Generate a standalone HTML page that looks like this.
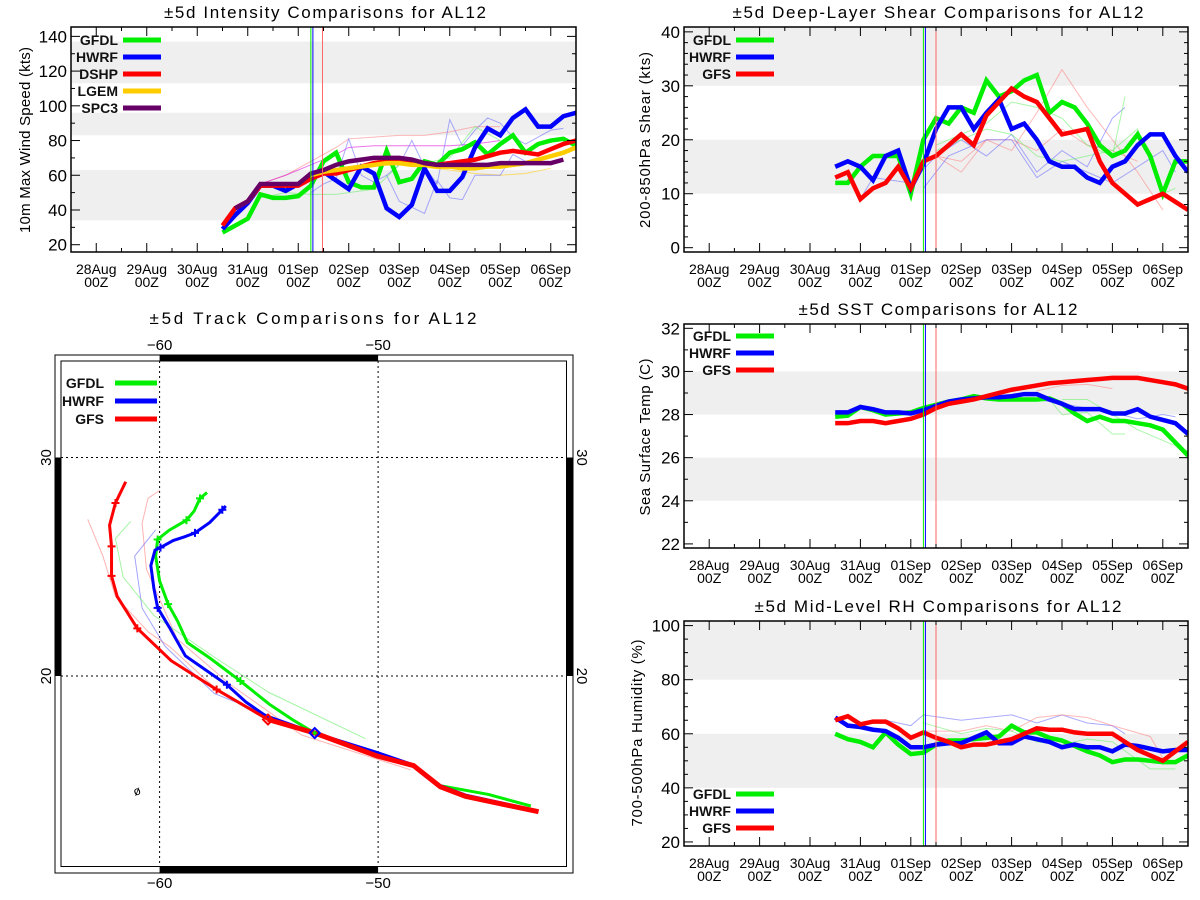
<!DOCTYPE html>
<html><head><meta charset="utf-8"><style>
html,body{margin:0;padding:0;background:#fff;}
svg{display:block;font-family:"Liberation Sans",sans-serif;}
</style></head><body>
<svg id="fig" width="1200" height="900" viewBox="0 0 1200 900" xmlns="http://www.w3.org/2000/svg"></svg>
<script>
// ---------- data ----------
const dayLabels = ["28Aug","29Aug","30Aug","31Aug","01Sep","02Sep","03Sep","04Sep","05Sep","06Sep"];
// intensity (kts), 6-hourly from t=2.5 days after 28Aug00Z
const intGFDL = [27,31,35,49,47,47,48,54,68,73,56,53,53,74,56,58,68,66,73,75,79,72,78,83,73,78,80,81,77];
const intHWRF = [29,37,44,54,54,51,55,60,62,57,52,65,61,41,36,43,64,51,51,59,76,87,83,93,98,88,88,94,96];
const intDSHP = [31,41,45,54,54,54,54,58,61,61,63,65,67,68,69,68,67,66,67,68,69,71,73,74,73,72,75,78,80];
const intLGEM = [60,62,63,64,65,66,67,67,66,66,65,65,64,64,65,65,66,67,69,71,73,76]; // from t=4.25
const intSPC3 = [41,45,55,55,55,55,61,63,66,68,69,70,70,70,69,67,66,66,66,66,66,67,67,67,67,67,69]; // from t=2.75
const intThinPink = [[3.25,55],[3.75,60],[4.25,68],[4.75,76],[5,81],[5.5,82],[6,83],[6.5,83],[7,85],[7.5,88],[8,88]];
const intThinMag = [[3.25,55],[3.75,60],[4.25,66],[4.75,72],[5,76],[5.5,77],[6,77],[6.5,77],[7,77],[7.5,78],[8,80]];
const intThinYel = [[5,65],[6,66],[7,63],[7.5,61],[8,60],[8.5,61],[9,64]];
const intThinBlue = [[4.25,50],[4.5,55],[4.75,58],[5,81],[5.25,60],[5.5,56],[5.75,60],[6,66],[6.25,80],[6.5,65],[6.75,55],[7,92],[7.25,77],[7.5,86],[7.75,93],[8,90],[8.25,82],[8.5,78],[9,86],[9.25,87]];
const intThinBlue2 = [[5.75,60],[6,45],[6.5,38],[6.75,57],[7,47],[7.25,46],[7.5,60],[8,60],[8.25,72],[8.5,68]];
const intThinGreen = [[3,37],[3.25,47],[3.75,50],[4.25,49],[4.75,49],[5,50],[5.5,52],[6,66],[6.5,67],[7,70],[7.5,88],[8,80]];
// shear (kts)
const shrGFDL = [12,12,15,17,17,17,10,20,24,23,26,25,31,28,29,31,32,25,27,26,23,19,17,18,21,17,10,16,16];
const shrHWRF = [15,16,15,12.5,17,18,11,15.5,22,26,26,22,25,27.5,22,23,20,16,15,15,13,12,15,16,19,21,21,17,14];
const shrGFS  = [13,14,9,11,12,15,11,16,17,19,21,19,24.5,27,29.5,28,27,24,21,21.5,22,16,12,10,8,9,10,8.5,7];
const shrThinRed = [[4.5,17],[5,14],[5.5,20],[6,18],[6.5,25],[7,33],[7.5,26],[8,20],[8.5,14],[9,7]];
const shrThinRed2 = [[4.5,17],[5,16],[5.5,20],[6,20],[6.5,18],[7,22],[7.5,19],[8,18],[8.5,16]];
const shrThinBlue = [[3,9],[3.25,13],[4,12],[4.5,17],[5,20],[5.5,17],[6,21],[6.5,14],[7,18],[7.5,15],[8,24],[8.25,26]];
const shrThinBlue2 = [[4.25,11],[4.75,17],[5.5,20],[6,20],[6.5,13],[7,16],[7.5,14],[8,12],[8.5,15],[9,18],[9.25,14]];
const shrThinGreen = [[4.5,19],[5,21],[5.5,23],[6,27],[6.5,26],[7,24],[7.5,19],[8,17],[8.25,28]];
const shrThinGreen2 = [[4.5,18],[5,20],[5.5,22],[6,21],[6.5,17],[7,16],[7.5,17],[8,18],[8.5,22],[9,10],[9.25,11]];
// SST (C)
const sstGFDL = [27.9,27.95,28.35,28.2,28.0,28.05,28.1,28.3,28.45,28.6,28.7,28.85,28.75,28.7,28.7,28.7,28.7,28.75,28.5,28.05,27.7,27.9,27.7,27.7,27.6,27.5,27.3,26.7,26.1];
const sstHWRF = [28.1,28.1,28.35,28.25,28.1,28.1,28.05,28.2,28.4,28.6,28.7,28.75,28.8,28.8,28.85,28.95,28.95,28.7,28.5,28.25,28.25,28.25,28.05,28.05,28.25,27.9,27.75,27.6,27.1];
const sstGFS  = [27.6,27.6,27.7,27.7,27.6,27.7,27.8,28.0,28.3,28.5,28.6,28.7,28.85,29.0,29.15,29.25,29.35,29.45,29.5,29.55,29.6,29.65,29.7,29.7,29.7,29.6,29.5,29.4,29.2];
const sstThinRed = [[6.5,29.1],[7,29.35],[7.5,29.4],[8,29.2]];
const sstThinGreen = [[6.75,28.7],[7,28.0],[7.5,28.1],[8,27.1],[8.25,27.1]];
const sstThinGreen2 = [[7,28.7],[7.5,28.7],[8,28.0],[8.5,27.3],[9,26.8],[9.5,26.3]];
const sstThinBlue = [[6.5,28.7],[7,28.5],[7.5,28.3],[8,28.1],[8.5,27.8],[9,28.0],[9.25,27.9]];
// RH (%)
const rhGFDL = [60,58,57,55,60.5,56,52.5,53,56,57.5,57.5,58,58.5,59,63,60.5,60.5,58.5,57.5,55.5,53.5,52,49.5,50.5,50.5,50,49.5,49.5,52];
const rhHWRF = [66,63,62.5,61.5,61,58.5,55,55,56,56.5,56.5,58.5,60.5,56.5,56.5,59,58,57,55,56,55,55,53.5,56,55.5,54.5,53.5,54,54];
const rhGFS  = [65,66.5,63.5,64.5,64.5,62,58.5,60.5,58.5,57,55,56,56,57,58,60,62,61.5,61.5,60.5,60,60,60,57,54,52,50,53.5,57];
const rhThinBlue = [[3.5,65],[4,63],[4.25,67],[5,65],[5.5,66],[6,67],[6.5,64],[7,67],[7.5,64],[8,63],[8.25,60]];
const rhThinRed = [[4.25,61],[5,61],[5.5,63],[6,61],[6.5,66],[7,67],[7.5,66],[8,63],[8.75,59],[9,51]];
const rhThinGreen = [[4.25,64],[5,60],[5.5,62],[6,61],[6.5,57],[7,56],[7.5,58],[8,57],[8.75,47],[9.25,47]];
// track (lon, lat)
const trkGFS = [[-61.55,28.89],[-62.02,27.92],[-62.29,26.9],[-62.2,25.93],[-62.2,24.58],[-61.94,23.64],[-61.02,22.18],[-59.47,20.7],[-57.39,19.38],[-55.04,18.01],[-52.9,17.39],[-50.05,16.34],[-48.38,15.9],[-47.15,14.93],[-46.0,14.49],[-42.66,13.79]];
const trkGFDL = [[-57.83,28.4],[-58.15,28.13],[-58.42,27.55],[-58.77,27.13],[-59.56,26.67],[-60.09,26.25],[-60.18,25.49],[-60.0,24.35],[-59.61,23.29],[-59.17,22.5],[-58.73,21.53],[-57.71,20.83],[-56.3,19.77],[-54.98,18.71],[-53.93,18.01],[-52.9,17.39],[-50.05,16.43],[-48.38,15.9],[-47.15,14.98],[-44.95,14.58],[-43.01,14.05]];
const trkHWRF = [[-56.97,27.78],[-57.13,27.61],[-57.71,27.02],[-58.38,26.55],[-58.86,26.37],[-59.38,26.2],[-59.96,25.88],[-60.21,25.76],[-60.4,25.05],[-60.26,24.0],[-60.09,23.12],[-59.56,22.24],[-58.82,20.92],[-57.8,20.21],[-56.92,19.6],[-56.04,18.8],[-55.16,18.19],[-52.9,17.39],[-50.05,16.5],[-48.38,15.93],[-47.15,14.98],[-46.0,14.55],[-42.66,13.82]];
const trkGFSTicks = [[-62.02,27.92],[-62.2,25.93],[-62.2,24.58],[-61.02,22.18],[-57.39,19.38]];
const trkGFDLTicks = [[-58.15,28.13],[-58.77,27.13],[-60.09,26.25],[-59.61,23.29],[-56.3,19.77]];
const trkHWRFTicks = [[-57.13,27.61],[-58.38,26.55],[-59.96,25.88],[-60.09,23.12],[-56.92,19.6]];
const trkThinRed = [[-63.29,27.17],[-62.6,25.5],[-62.02,23.64],[-60.5,22.0],[-59.56,21.36],[-57.39,19.38]];
const trkThinRed2 = [[-60.0,28.49],[-60.53,28.13],[-60.8,26.99],[-60.6,24.88],[-59.2,21.7],[-56.75,19.6],[-53.5,17.3],[-48.5,15.7]];
const trkThinBlue = [[-60.18,26.69],[-61.14,25.49],[-60.8,23.1],[-59.75,21.36],[-57.5,19.2],[-55,18.2]];
const trkThinGreen = [[-61.32,27.08],[-62.02,26.29],[-61.67,24.53],[-60.26,22.77],[-57.45,20.83],[-55,19.25],[-50.58,17.13]];

// ---------- helpers ----------
const NS = "http://www.w3.org/2000/svg";
const svg = document.getElementById("fig");
function mk(tag, attrs, parent) {
  const e = document.createElementNS(NS, tag);
  for (const k in attrs) e.setAttribute(k, attrs[k]);
  (parent || svg).appendChild(e);
  return e;
}
function txt(s, attrs, parent) { const e = mk("text", attrs, parent); e.textContent = s; return e; }
function series(arr, t0) { return arr.map((v, i) => [t0 + i * 0.25, v]); }

function timePanel(cfg) {
  const g = mk("g", {});
  
  
  const {x0, x1, y0, y1, vmin, vmax} = cfg;
  const tmin = -0.5, tmax = 9.5;
  const X = t => x0 + (t - tmin) / (tmax - tmin) * (x1 - x0);
  const Y = v => y1 - (v - vmin) / (vmax - vmin) * (y1 - y0);
  // bands
  cfg.bands.forEach(b => {
    const r = mk("rect", {x: x0, y: Y(b[1]), width: x1 - x0, height: Y(b[0]) - Y(b[1]), fill: "#efefef"}, g);
    
    
  });
  const clipId = "c" + cfg.name;
  const cp = mk("clipPath", {id: clipId}, g);
  mk("rect", {x: x0, y: y0, width: x1 - x0, height: y1 - y0}, cp);
  const data = mk("g", {"clip-path": "url(#" + clipId + ")"}, g);
  // thin lines
  cfg.thin.forEach(th => {
    const p = mk("polyline", {points: th.pts.map(p => X(p[0]) + "," + Y(p[1])).join(" "), fill: "none", stroke: th.c, "stroke-width": 1, opacity: 0.55}, data);
    
    
  });
  // vertical lines
  cfg.vlines.forEach(v => {
    const l = mk("line", {x1: X(v[0]), x2: X(v[0]), y1: y0, y2: y1, stroke: v[1], "stroke-width": 1}, g);
    
    
  });
  // thick series
  cfg.series.forEach(s => {
    const p = mk("polyline", {points: s.pts.map(p => X(p[0]) + "," + Y(p[1])).join(" "), fill: "none", stroke: s.c, "stroke-width": 4.5, "stroke-linejoin": "miter"}, data);
    
    
  });
  // frame
  const fr = mk("rect", {x: x0, y: y0, width: x1 - x0, height: y1 - y0, fill: "none", stroke: "#000", "stroke-width": 1.5}, g);
  
  
  // x ticks
  for (let k = 0; k <= 19; k++) {
    const t = k * 0.5;
    const xx = X(t), len = (k % 2 === 0) ? 9 : 4;
    mk("line", {x1: xx, x2: xx, y1: y1, y2: y1 - len, stroke: "#000", "stroke-width": 1}, g);
    mk("line", {x1: xx, x2: xx, y1: y0, y2: y0 + len, stroke: "#000", "stroke-width": 1}, g);
  }
  dayLabels.forEach((d, i) => {
    const t1 = txt(d, {x: X(i), y: y1 + 22, "font-size": 14, "text-anchor": "middle"}, g);
    
    
    const t2 = txt("00Z", {x: X(i), y: y1 + 35, "font-size": 14, "text-anchor": "middle"}, g);
    
    
  });
  // y ticks
  for (let v = cfg.ticks[0]; v <= cfg.ticks[1] + 1e-9; v += cfg.minor) {
    const yy = Y(v);
    const major = Math.abs(((v - cfg.ticks[0]) / cfg.major) - Math.round((v - cfg.ticks[0]) / cfg.major)) < 1e-6;
    const len = major ? 9 : 4;
    mk("line", {x1: x0, x2: x0 + len, y1: yy, y2: yy, stroke: "#000", "stroke-width": 1}, g);
    mk("line", {x1: x1, x2: x1 - len, y1: yy, y2: yy, stroke: "#000", "stroke-width": 1}, g);
    if (major) {
      const tl = txt(String(Math.round(v)), {x: x0 - 4, y: yy + 6, "font-size": 17, "text-anchor": "end"}, g);
      
      
    }
  }
  // title
  const ti = txt(cfg.title, {x: cfg.tx, y: y0 - 9, "font-size": 17, "text-anchor": "middle", textLength: cfg.tw, lengthAdjust: "spacing"}, g);
  
  
  // y title
  const yt = txt(cfg.ytitle, {x: 0, y: 0, "font-size": 15, "text-anchor": "middle", textLength: cfg.yl, lengthAdjust: "spacing", transform: "translate(" + cfg.yx + "," + cfg.yc + ") rotate(-90)"}, g);
  
  
  // legend
  cfg.series.filter(s => s.leg).forEach((s, i) => {
    const ly = cfg.legY + i * cfg.legDy;
    const lt = txt(s.n, {x: cfg.legTx, y: ly + 5, "font-size": 14, "text-anchor": "end", "font-weight": "bold", fill: "#111"}, g);
    
    
    const ll = mk("line", {x1: cfg.legTx + 5, x2: cfg.legTx + 43, y1: ly, y2: ly, stroke: s.c, "stroke-width": 5}, g);
    
    
  });
}

const G = "#00ee00", B = "#0000ff", R = "#ff0000", YL = "#ffcc00", P = "#660066";
const vl = [[4.25, G], [4.29, B], [4.5, "#ff6666"]];

timePanel({name: "intensity-panel", x0: 71, x1: 576, y0: 27, y1: 252, vmin: 15.8, vmax: 145.4,
  bands: [[34, 63], [83, 96], [113, 137]], ticks: [20, 140], major: 20, minor: 10,
  title: "±5d Intensity Comparisons for AL12", tx: 325, tw: 322,
  ytitle: "10m Max Wind Speed (kts)", yx: 30, yc: 140, yl: 186,
  vlines: [[4.25, G], [4.29, B], [4.48, "#ff6666"]],
  thin: [{pts: intThinPink, c: "#ff8080"}, {pts: intThinMag, c: "#dd00dd"}, {pts: intThinYel, c: "#ffcc00"}, {pts: intThinBlue, c: "#6666ff"}, {pts: intThinBlue2, c: "#6666ff"}, {pts: intThinGreen, c: "#66ee66"}],
  series: [{n: "GFDL", c: G, pts: series(intGFDL, 2.5), leg: 1}, {n: "HWRF", c: B, pts: series(intHWRF, 2.5), leg: 1}, {n: "DSHP", c: R, pts: series(intDSHP, 2.5), leg: 1}, {n: "LGEM", c: YL, pts: series(intLGEM, 4.25), leg: 1}, {n: "SPC3", c: P, pts: series(intSPC3, 2.75), leg: 1}],
  legY: 40, legDy: 17, legTx: 118});

timePanel({name: "shear-panel", x0: 684, x1: 1188, y0: 27, y1: 252, vmin: -0.8, vmax: 40.9,
  bands: [[10, 20], [30, 40.9]], ticks: [0, 40], major: 10, minor: 2,
  title: "±5d Deep-Layer Shear Comparisons for AL12", tx: 938, tw: 411,
  ytitle: "200-850hPa Shear (kts)", yx: 650, yc: 140, yl: 176,
  vlines: vl,
  thin: [{pts: shrThinRed, c: "#ff8080"}, {pts: shrThinRed2, c: "#ff8080"}, {pts: shrThinBlue, c: "#6666ff"}, {pts: shrThinBlue2, c: "#6666ff"}, {pts: shrThinGreen, c: "#66ee66"}, {pts: shrThinGreen2, c: "#66ee66"}],
  series: [{n: "GFDL", c: G, pts: series(shrGFDL, 2.5), leg: 1}, {n: "HWRF", c: B, pts: series(shrHWRF, 2.5), leg: 1}, {n: "GFS", c: R, pts: series(shrGFS, 2.5), leg: 1}],
  legY: 40, legDy: 17, legTx: 731});

timePanel({name: "sst-panel", x0: 684, x1: 1188, y0: 324, y1: 548, vmin: 21.81, vmax: 32.2,
  bands: [[24, 26], [28, 30]], ticks: [22, 32], major: 2, minor: 1,
  title: "±5d SST Comparisons for AL12", tx: 938, tw: 279,
  ytitle: "Sea Surface Temp (C)", yx: 650, yc: 437, yl: 157,
  vlines: vl,
  thin: [{pts: sstThinRed, c: "#ff8080"}, {pts: sstThinGreen, c: "#66ee66"}, {pts: sstThinGreen2, c: "#66ee66"}, {pts: sstThinBlue, c: "#6666ff"}],
  series: [{n: "GFDL", c: G, pts: series(sstGFDL, 2.5), leg: 1}, {n: "HWRF", c: B, pts: series(sstHWRF, 2.5), leg: 1}, {n: "GFS", c: R, pts: series(sstGFS, 2.5), leg: 1}],
  legY: 336, legDy: 17, legTx: 731});

timePanel({name: "rh-panel", x0: 684, x1: 1188, y0: 621, y1: 846, vmin: 18.5, vmax: 101.7,
  bands: [[40, 60], [80, 101.7]], ticks: [20, 100], major: 20, minor: 5,
  title: "±5d Mid-Level RH Comparisons for AL12", tx: 938, tw: 367,
  ytitle: "700-500hPa Humidity (%)", yx: 642, yc: 733, yl: 187,
  vlines: vl,
  thin: [{pts: rhThinBlue, c: "#6666ff"}, {pts: rhThinRed, c: "#ff8080"}, {pts: rhThinGreen, c: "#66ee66"}],
  series: [{n: "GFDL", c: G, pts: series(rhGFDL, 2.5), leg: 1}, {n: "HWRF", c: B, pts: series(rhHWRF, 2.5), leg: 1}, {n: "GFS", c: R, pts: series(rhGFS, 2.5), leg: 1}],
  legY: 794, legDy: 17, legTx: 731});

// ---------- track map ----------
(function () {
  const g = mk("g", {});
  
  
  const ix0 = 61, ix1 = 566.5, iy0 = 361, iy1 = 866.5;
  const LX = lon => 159.6 + (lon + 60) * 21.85;
  const LY = lat => 676 - (lat - 20) * 21.85;
  const ti = txt("±5d Track Comparisons for AL12", {x: 313, y: 324, "font-size": 17, "text-anchor": "middle", textLength: 327, lengthAdjust: "spacing"}, g);
  
  
  const of = mk("rect", {x: 55, y: 355, width: 518, height: 518, fill: "none", stroke: "#000", "stroke-width": 1}, g);
  
  
  const inf = mk("rect", {x: ix0, y: iy0, width: ix1 - ix0, height: iy1 - iy0, fill: "none", stroke: "#000", "stroke-width": 1}, g);
  
  
  // black border bars
  mk("rect", {x: LX(-60), y: 355, width: LX(-50) - LX(-60), height: 6, fill: "#000"}, g);
  mk("rect", {x: LX(-60), y: iy1, width: LX(-50) - LX(-60), height: 6.5, fill: "#000"}, g);
  mk("rect", {x: 55, y: LY(30), width: 6, height: LY(20) - LY(30), fill: "#000"}, g);
  mk("rect", {x: ix1, y: LY(30), width: 6.5, height: LY(20) - LY(30), fill: "#000"}, g);
  // grid
  [-60, -50].forEach(lon => {
    const l = mk("line", {x1: LX(lon), x2: LX(lon), y1: iy0, y2: iy1, stroke: "#000", "stroke-width": 1, "stroke-dasharray": "2,3"}, g);
    
    
    const a = txt(String(lon).replace("-", "\u2212"), {x: LX(lon), y: 350, "font-size": 15, "text-anchor": "middle"}, g);
    
    
    const b = txt(String(lon).replace("-", "\u2212"), {x: LX(lon), y: 888, "font-size": 15, "text-anchor": "middle"}, g);
    
    
  });
  [20, 30].forEach(lat => {
    const l = mk("line", {x1: ix0, x2: ix1, y1: LY(lat), y2: LY(lat), stroke: "#000", "stroke-width": 1, "stroke-dasharray": "2,3"}, g);
    
    
    const a = txt(String(lat), {x: 0, y: 0, "font-size": 15, "text-anchor": "middle", transform: "translate(51," + LY(lat) + ") rotate(-90)"}, g);
    
    
    const b = txt(String(lat), {x: 0, y: 0, "font-size": 15, "text-anchor": "middle", transform: "translate(577," + LY(lat) + ") rotate(90)"}, g);
    
    
  });
  const pts = a => a.map(p => LX(p[0]) + "," + LY(p[1])).join(" ");
  [[trkThinRed, "#ff8080"], [trkThinRed2, "#ff8080"], [trkThinBlue, "#6666ff"], [trkThinGreen, "#66ee66"]].forEach(th => {
    const p = mk("polyline", {points: pts(th[0]), fill: "none", stroke: th[1], "stroke-width": 1, opacity: 0.6}, g);
    
    
  });
  const tr = [["GFDL", G, trkGFDL, trkGFDLTicks, 3], ["HWRF", B, trkHWRF, trkHWRFTicks, 3], ["GFS", R, trkGFS, trkGFSTicks, 3]];
  tr.forEach(t => {
    const p = mk("polyline", {points: pts(t[2]), fill: "none", stroke: t[1], "stroke-width": t[4]}, g);
    
    
    t[3].forEach(k => {
      const m = mk("path", {d: "M" + (LX(k[0]) - 4) + "," + LY(k[1]) + "h8M" + LX(k[0]) + "," + (LY(k[1]) - 4) + "v8", stroke: t[1], "stroke-width": 2}, g);
      
      
    });
  });
  // thick GFS tail on top
  const tail = mk("polyline", {points: pts(trkGFS.slice(9)), fill: "none", stroke: R, "stroke-width": 5}, g);
  
  
  const d1 = mk("path", {d: "M" + LX(-52.9) + "," + (LY(17.39) - 5) + "l5,5l-5,5l-5,-5z", fill: "none", stroke: B, "stroke-width": 2}, g);
  
  
  mk("path", {d: "M" + LX(-52.9) + "," + (LY(17.39) - 2.5) + "l2.5,2.5l-2.5,2.5l-2.5,-2.5z", fill: G}, g);
  const d2 = mk("path", {d: "M" + LX(-55.04) + "," + (LY(18.01) - 5) + "l5,5l-5,5l-5,-5z", fill: "none", stroke: R, "stroke-width": 2}, g);
  
  
  const gl = txt("ø", {x: 137, y: 795, "font-size": 12, "text-anchor": "middle", transform: "rotate(-20 137 791)"}, g);
  
  
  // legend
  tr.forEach((t, i) => {
    const ly = 383 + i * 18;
    const lt = txt(t[0], {x: 104, y: ly + 5, "font-size": 14, "font-weight": "bold", "text-anchor": "end", fill: "#111"}, g);
    
    
    const ll = mk("line", {x1: 115, x2: 157, y1: ly, y2: ly, stroke: t[1], "stroke-width": 5}, g);
    
    
  });
})();
</script>
</body></html>
